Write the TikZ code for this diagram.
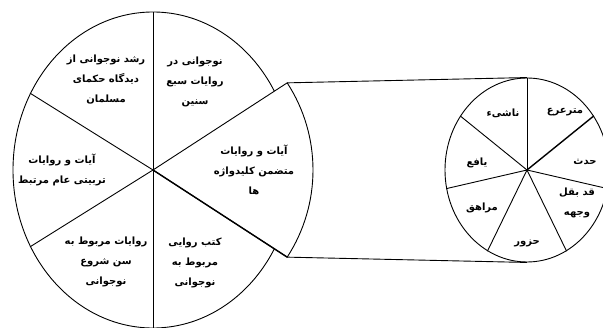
\documentclass[tikz,border=0pt]{standalone}
\usepackage{fontspec}
\newfontfamily\arabicfont[Script=Arabic]{DejaVu Sans}
\TeXXeTstate=1
\usetikzlibrary{shapes.geometric, calc}
\newcommand{\rtl}[1]{\beginR #1\endR}
\tikzset{
  every picture/.style={line width=0.9pt},
  pie/.style={draw, ellipse, inner sep=0pt},
  thick spoke/.style={line width=1.4pt},
  lab/.style={font=\arabicfont\bfseries\fontsize{10}{20}\selectfont, align=center, inner sep=1pt},
}
\begin{document}
\begin{tikzpicture}[x=1pt, y=1pt]
  \useasboundingbox (0,0) rectangle (603,327);
  \clip (0,0) rectangle (603,327);
  % big pie with the pulled-out wedge
  \node[pie, minimum width=280pt, minimum height=316pt] (big) at (153,157) {};
  \foreach \a in {90,-90,148,-148}
    \draw (big.center) -- (big.\a);
  \coordinate (wtop) at ($(big.center)+(33:160)$);
  \coordinate (wbot) at ($(big.center)+(-33:160)$);
  \filldraw[fill=white] (big.center) -- (wtop) arc[start angle=33, end angle=-33, radius=160] -- cycle;
  \draw[thick spoke] (big.center) -- (wbot);
  % small pie
  \node[pie, minimum width=164pt, minimum height=184pt] (small) at (527,157) {};
  \foreach \a in {90,-13,-64,-116,-167,141}
    \draw (small.center) -- (small.\a);
  \draw[thick spoke] (small.center) -- (small.39);
  \draw (wtop) -- (small.north);
  \draw (wbot) -- (small.south);
  % labels
  \node[lab] (nj)   at (195,245) {\rtl{نوجوانی در}\\\rtl{روایات سبع}\\\rtl{سنین}};
  \node[lab] (rshd) at (106,247) {\rtl{رشد نوجوانی از}\\\rtl{دیدگاه حکمای}\\\rtl{مسلمان}};
  \node[lab] (tarb) at (62,157)  {\rtl{آیات و روایات}\\\rtl{تربیتی عام مرتبط}};
  \node[lab] (sen)  at (106,65)  {\rtl{روایات مربوط به}\\\rtl{سن شروع}\\\rtl{نوجوانی}};
  \node[lab] (ktb)  at (195,64)  {\rtl{کتب روایی}\\\rtl{مربوط به}\\\rtl{نوجوانی}};
  \node[lab] (klid) at (254,157) {\rtl{آیات و روایات}\\\rtl{متضمن کلیدواژه}\\\rtl{ها}};
  \node[lab] (mtr)  at (565,215) {\rtl{مترعرع}};
  \node[lab] (hdth) at (585,165) {\rtl{حدث}};
  \node[lab] (bql)  at (577,124) {\rtl{قد بقل}\\\rtl{وجهه}};
  \node[lab] (hzvr) at (527,84)  {\rtl{حزور}};
  \node[lab] (mrhq) at (482,119) {\rtl{مراهق}};
  \node[lab] (yafe) at (477,164) {\rtl{یافع}};
  \node[lab] (nash) at (503,214) {\rtl{ناشیء}};
\end{tikzpicture}
\end{document}
